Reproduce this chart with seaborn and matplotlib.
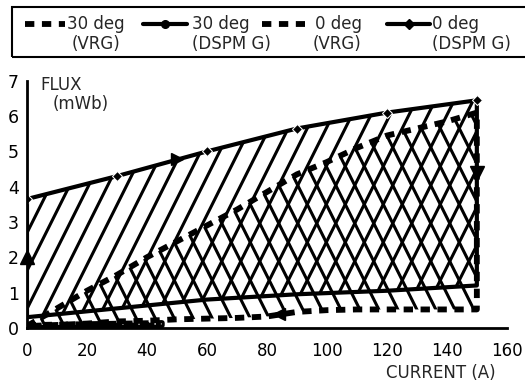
import numpy as np
import pandas as pd
import seaborn as sns
import matplotlib
matplotlib.use("Agg")
import matplotlib.pyplot as plt
from matplotlib.lines import Line2D
from matplotlib.patches import Rectangle
from matplotlib.collections import LineCollection

# ---- data ----
current_vrg = [0, 10, 20, 30, 40, 50, 60, 70, 80, 90, 100, 110, 120, 130, 140, 150]
vrg30_upper = [0.05, 0.55, 1.05, 1.5, 2.0, 2.45, 2.9, 3.35, 3.85, 4.35, 4.7, 5.1, 5.45, 5.65, 5.85, 6.1]
vrg30_lower = [0.05, 0.08, 0.12, 0.18, 0.2, 0.24, 0.26, 0.28, 0.32, 0.45, 0.5, 0.52, 0.52, 0.52, 0.52, 0.52]

current_dspm = [0, 30, 60, 90, 120, 150]
dspm30_upper = [3.65, 4.3, 5.0, 5.65, 6.1, 6.45]
dspm30_lower = [0.3, 0.55, 0.8, 0.95, 1.05, 1.2]

current_0 = [0, 15, 30, 45]
vrg0_upper = [0.08, 0.1, 0.12, 0.14]
vrg0_lower = [0.04, 0.05, 0.06, 0.07]
dspm0 = [0.03, 0.03, 0.04, 0.04]

x_ticks = [0, 20, 40, 60, 80, 100, 120, 140, 160]
y_ticks = [0, 1, 2, 3, 4, 5, 6, 7]
legend_line1 = ["30 deg", "30 deg", "0 deg", "0 deg"]
legend_line2 = ["(VRG)", "(DSPM G)", "(VRG)", "(DSPM G)"]

sns.set_theme(style="white")
plt.rcParams["font.family"] = ["DejaVu Sans"]

W, H = 525, 387
fig = plt.figure(figsize=(W / 100, H / 100), dpi=100)
ax = fig.add_axes([0.0514, 0.153, 0.914, 0.638])
ax.set_xlim(0, 160)
ax.set_ylim(0, 7)

dash = (0, (1.6, 1.3))


def steep_hatch(poly, direction):
    """Hatch texture (steep lines, ~19 px apart) clipped to a filled region."""
    fig.canvas.draw()
    bb = ax.get_window_extent()
    x0, x1 = ax.get_xlim()
    y0, y1 = ax.get_ylim()
    ppx = bb.width / (x1 - x0)
    ppy = bb.height / (y1 - y0)
    slope = 2.0 * ppx / ppy
    step = 19.0 / ppx
    span = (y1 - y0) / slope
    segs = []
    c = x0 - span - step
    while c < x1 + span + step:
        if direction > 0:
            segs.append([(c, y0), (c + span, y1)])
        else:
            segs.append([(c + span, y0), (c, y1)])
        c += step
    lc = LineCollection(segs, colors="black", linewidths=2.2,
                        transform=ax.transData)
    ax.add_collection(lc)
    lc.set_clip_path(poly.get_paths()[0], ax.transData)


# hatched loops
p_dspm = ax.fill_between(current_dspm, dspm30_lower, dspm30_upper,
                         facecolor="none", linewidth=0)
p_vrg = ax.fill_between(current_vrg, vrg30_lower, vrg30_upper,
                        facecolor="none", linewidth=0)
steep_hatch(p_dspm, +1)
steep_hatch(p_vrg, -1)

# 30 deg DSPM G loop (closed path)
loop_x = current_dspm + current_dspm[::-1] + [current_dspm[0]]
loop_y = dspm30_upper + dspm30_lower[::-1] + [dspm30_upper[0]]
sns.lineplot(x=loop_x, y=loop_y, sort=False, estimator=None, color="black",
             linewidth=3.0, ax=ax)
sns.lineplot(x=current_dspm, y=dspm30_upper, sort=False, estimator=None,
             color="black", linewidth=0, marker="D", markersize=5.5, ax=ax)

# 30 deg VRG loop
vloop_x = current_vrg + [current_vrg[-1]] + current_vrg[::-1]
vloop_y = vrg30_upper + [vrg30_lower[-1]] + vrg30_lower[::-1]
sns.lineplot(x=vloop_x, y=vloop_y, sort=False, estimator=None, color="black",
             linewidth=4.2, linestyle=dash, ax=ax)

# 0 deg loops near the axis
sns.lineplot(x=current_0 + current_0[::-1], y=vrg0_upper + vrg0_lower[::-1],
             sort=False, estimator=None, color="black", linewidth=4.0,
             linestyle=dash, ax=ax)
sns.lineplot(x=current_0, y=dspm0, sort=False, estimator=None, color="black",
             linewidth=2.5, ax=ax)

# direction arrows
ax.plot([current_dspm[0]], [2.0], marker="^", color="black", markersize=10, clip_on=False)
ax.plot([current_dspm[-1]], [4.4], marker="v", color="black", markersize=10, clip_on=False)
ax.plot([50], [4.78], marker=">", color="black", markersize=9)
ax.plot([84], [0.4], marker="<", color="black", markersize=9)

ax.set_xlim(0, 160)
ax.set_ylim(0, 7)
ax.set_xticks(x_ticks)
ax.set_yticks(y_ticks)
ax.set_xticklabels([str(v) for v in x_ticks], fontsize=12)
ax.set_yticklabels([str(v) for v in y_ticks], fontsize=12.5)
for s in ["top", "right"]:
    ax.spines[s].set_visible(False)
for s in ["left", "bottom"]:
    ax.spines[s].set_color("black")
    ax.spines[s].set_linewidth(2.0)
ax.tick_params(axis="x", direction="inout", length=9, width=1.8, colors="black", pad=6)
ax.tick_params(axis="y", direction="in", length=5, width=1.8, colors="black", pad=6)
ax.set_xlabel("")
ax.set_ylabel("")

fig.text(0.077, 0.78, "FLUX", fontsize=12, ha="left", va="center")
fig.text(0.1, 0.73, "(mWb)", fontsize=12, ha="left", va="center")
fig.text(0.735, 0.035, "CURRENT (A)", fontsize=12, ha="left", va="center")

# ---- legend box (drawn by hand to match the scanned layout) ----
def fx(px):
    return px / W


def fy(py):
    return 1 - py / H


fig.add_artist(Rectangle((fx(12), fy(57)), 1.2, fy(7) - fy(57),
                         transform=fig.transFigure, facecolor="none",
                         edgecolor="black", linewidth=1.5, clip_on=False))
handle_px = [(25, 65), (143, 187), (262, 305), (387, 430)]
text1_px = [67, 192, 315, 432]
text2_px = [72, 192, 313, 432]
line_styles = [dash, "-", dash, "-"]
line_widths = [4.2, 3.0, 4.2, 3.0]
handle_markers = [None, "o", None, "D"]
for (a, b), t1, t2, l1, l2, ls, lw, mk in zip(handle_px, text1_px, text2_px,
                                              legend_line1, legend_line2,
                                              line_styles, line_widths,
                                              handle_markers):
    fig.add_artist(Line2D([fx(a), fx(b)], [fy(24), fy(24)],
                          transform=fig.transFigure, color="black",
                          linewidth=lw, linestyle=ls))
    if mk is not None:
        fig.add_artist(Line2D([fx((a + b) / 2)], [fy(24)],
                              transform=fig.transFigure, color="black",
                              linestyle="none", marker=mk, markersize=5.5))
    fig.text(fx(t1), fy(24), l1, fontsize=12, ha="left", va="center")
    fig.text(fx(t2), fy(44), l2, fontsize=12, ha="left", va="center")

fig.savefig("out.png", dpi=100)
